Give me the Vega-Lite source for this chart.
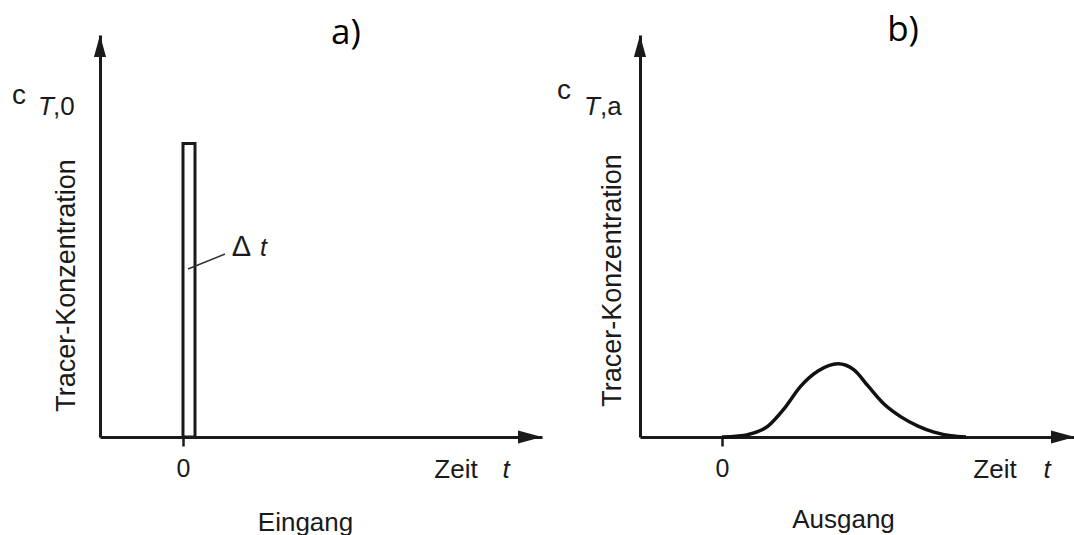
{
  "$schema": "https://vega.github.io/schema/vega-lite/v6.json",
  "background": "white",
  "padding": {"left": 12, "top": 13, "right": 0, "bottom": 0},
  "spacing": 14,
  "config": {
    "view": {"stroke": null},
    "font": "Liberation Sans",
    "text": {"font": "Liberation Sans", "color": "#1a1a1a", "fontSize": 26, "baseline": "middle", "align": "center"}
  },
  "hconcat": [
    {
      "width": 442,
      "height": 402,
      "data": {"values": [{"t_start": 0, "t_end": 0.3, "c": 7.3}]},
      "layer": [
        {
          "mark": {"type": "rect", "fill": "white", "stroke": "#1a1a1a", "strokeWidth": 3},
          "encoding": {
            "x": {
              "field": "t_start", "type": "quantitative",
              "scale": {"domain": [-2.075, 8.975], "nice": false, "zero": false},
              "axis": {
                "values": [0], "format": "d", "grid": false,
                "domainColor": "#1a1a1a", "domainWidth": 3,
                "tickColor": "#1a1a1a", "tickWidth": 2.5, "tickSize": 9,
                "labelFontSize": 25, "labelColor": "#1a1a1a", "labelPadding": 10, "labelFlush": false,
                "title": "Eingang", "titleX": 205, "titleY": 85, "titleBaseline": "middle", "titleAlign": "center",
                "titleFontSize": 26, "titleFontWeight": "normal", "titleColor": "#1a1a1a"
              }
            },
            "x2": {"field": "t_end"},
            "y": {
              "field": "c", "type": "quantitative",
              "scale": {"domain": [0, 10], "nice": false},
              "axis": {
                "ticks": false, "labels": false, "grid": false,
                "domainColor": "#1a1a1a", "domainWidth": 3,
                "title": "Tracer-Konzentration", "titleX": -34, "titleY": 250, "titleAngle": 270,
                "titleBaseline": "middle", "titleAlign": "center",
                "titleFontSize": 27, "titleFontWeight": "normal", "titleColor": "#1a1a1a"
              }
            },
            "y2": {"datum": 0}
          }
        },
        {
          "data": {"values": [{}]},
          "mark": {"type": "rule", "stroke": "#333", "strokeWidth": 1.6},
          "encoding": {"x": {"datum": 0.125}, "x2": {"datum": 1.05}, "y": {"datum": 4.18}, "y2": {"datum": 4.55}}
        },
        {
          "data": {"values": [{}]},
          "mark": {"type": "point", "shape": "M0,-1L0.55,1L-0.55,1Z", "size": 484, "filled": true, "color": "#1a1a1a", "opacity": 1, "yOffset": 11},
          "encoding": {"x": {"datum": -2.075}, "y": {"datum": 10}}
        },
        {
          "data": {"values": [{}]},
          "mark": {"type": "point", "shape": "M1,0L-1,-0.55L-1,0.55Z", "size": 576, "filled": true, "color": "#1a1a1a", "opacity": 1, "xOffset": -12},
          "encoding": {"x": {"datum": 8.975}, "y": {"datum": 0}}
        },
        {
          "data": {"values": [{}]},
          "mark": {"type": "text", "text": "Δ", "fontSize": 29},
          "encoding": {"x": {"datum": 1.4625}, "y": {"datum": 4.72}}
        },
        {
          "data": {"values": [{}]},
          "mark": {"type": "text", "text": "t", "fontSize": 25, "fontStyle": "italic"},
          "encoding": {"x": {"datum": 2.0125}, "y": {"datum": 4.69}}
        },
        {
          "data": {"values": [{}]},
          "mark": {"type": "text", "text": "c", "fontSize": 28},
          "encoding": {"x": {"datum": -4.1}, "y": {"datum": 8.495}}
        },
        {
          "data": {"values": [{}]},
          "mark": {"type": "text", "text": "T", "fontSize": 26, "fontStyle": "italic", "align": "left"},
          "encoding": {"x": {"datum": -3.625}, "y": {"datum": 8.22}}
        },
        {
          "data": {"values": [{}]},
          "mark": {"type": "text", "text": ",0", "fontSize": 26, "align": "left"},
          "encoding": {"x": {"datum": -3.25}, "y": {"datum": 8.22}}
        },
        {
          "data": {"values": [{}]},
          "mark": {"type": "text", "text": "Zeit", "fontSize": 26},
          "encoding": {"x": {"datum": 6.825}, "y": {"datum": -0.82}}
        },
        {
          "data": {"values": [{}]},
          "mark": {"type": "text", "text": "t", "fontSize": 26, "fontStyle": "italic"},
          "encoding": {"x": {"datum": 8.075}, "y": {"datum": -0.82}}
        },
        {
          "data": {"values": [{}]},
          "mark": {"type": "text", "text": "a)", "font": "Open Sans", "fontSize": 35, "color": "#000"},
          "encoding": {"x": {"datum": 4.075}, "y": {"datum": 10.05}}
        }
      ]
    },
    {
      "width": 435,
      "height": 402,
      "data": {"values": [
        {"t": 0, "c": 0},
        {"t": 0.35, "c": 0.02},
        {"t": 0.65, "c": 0.06},
        {"t": 1.15, "c": 0.27},
        {"t": 1.55, "c": 0.7},
        {"t": 1.975, "c": 1.27},
        {"t": 2.4, "c": 1.64},
        {"t": 2.9, "c": 1.82},
        {"t": 3.3, "c": 1.67},
        {"t": 3.65, "c": 1.27},
        {"t": 4.05, "c": 0.82},
        {"t": 4.475, "c": 0.5},
        {"t": 4.9, "c": 0.27},
        {"t": 5.3, "c": 0.12},
        {"t": 5.725, "c": 0.03},
        {"t": 6.1, "c": 0}
      ]},
      "layer": [
        {
          "mark": {"type": "line", "color": "#111", "strokeWidth": 3.5, "interpolate": "monotone"},
          "encoding": {
            "x": {
              "field": "t", "type": "quantitative",
              "scale": {"domain": [-2.05, 8.825], "nice": false, "zero": false},
              "axis": {
                "values": [0], "format": "d", "grid": false,
                "domainColor": "#1a1a1a", "domainWidth": 3,
                "tickColor": "#1a1a1a", "tickWidth": 2.5, "tickSize": 9,
                "labelFontSize": 25, "labelColor": "#1a1a1a", "labelPadding": 10, "labelFlush": false,
                "title": "Ausgang", "titleX": 203, "titleY": 82, "titleBaseline": "middle", "titleAlign": "center",
                "titleFontSize": 26, "titleFontWeight": "normal", "titleColor": "#1a1a1a"
              }
            },
            "y": {
              "field": "c", "type": "quantitative",
              "scale": {"domain": [0, 10], "nice": false},
              "axis": {
                "ticks": false, "labels": false, "grid": false,
                "domainColor": "#1a1a1a", "domainWidth": 3,
                "title": "Tracer-Konzentration", "titleX": -28, "titleY": 245, "titleAngle": 270,
                "titleBaseline": "middle", "titleAlign": "center",
                "titleFontSize": 27, "titleFontWeight": "normal", "titleColor": "#1a1a1a"
              }
            }
          }
        },
        {
          "data": {"values": [{}]},
          "mark": {"type": "point", "shape": "M0,-1L0.55,1L-0.55,1Z", "size": 484, "filled": true, "color": "#1a1a1a", "opacity": 1, "yOffset": 11},
          "encoding": {"x": {"datum": -2.05}, "y": {"datum": 10}}
        },
        {
          "data": {"values": [{}]},
          "mark": {"type": "point", "shape": "M1,0L-1,-0.55L-1,0.55Z", "size": 576, "filled": true, "color": "#1a1a1a", "opacity": 1, "xOffset": -12},
          "encoding": {"x": {"datum": 8.825}, "y": {"datum": 0}}
        },
        {
          "data": {"values": [{}]},
          "mark": {"type": "text", "text": "c", "fontSize": 28},
          "encoding": {"x": {"datum": -3.95}, "y": {"datum": 8.595}}
        },
        {
          "data": {"values": [{}]},
          "mark": {"type": "text", "text": "T", "fontSize": 26, "fontStyle": "italic", "align": "left"},
          "encoding": {"x": {"datum": -3.45}, "y": {"datum": 8.2}}
        },
        {
          "data": {"values": [{}]},
          "mark": {"type": "text", "text": ",a", "fontSize": 26, "align": "left"},
          "encoding": {"x": {"datum": -3.05}, "y": {"datum": 8.2}}
        },
        {
          "data": {"values": [{}]},
          "mark": {"type": "text", "text": "Zeit", "fontSize": 26},
          "encoding": {"x": {"datum": 6.825}, "y": {"datum": -0.82}}
        },
        {
          "data": {"values": [{}]},
          "mark": {"type": "text", "text": "t", "fontSize": 26, "fontStyle": "italic"},
          "encoding": {"x": {"datum": 8.125}, "y": {"datum": -0.82}}
        },
        {
          "data": {"values": [{}]},
          "mark": {"type": "text", "text": "b)", "font": "Open Sans", "fontSize": 35, "color": "#000"},
          "encoding": {"x": {"datum": 4.525}, "y": {"datum": 10.12}}
        }
      ]
    }
  ]
}
